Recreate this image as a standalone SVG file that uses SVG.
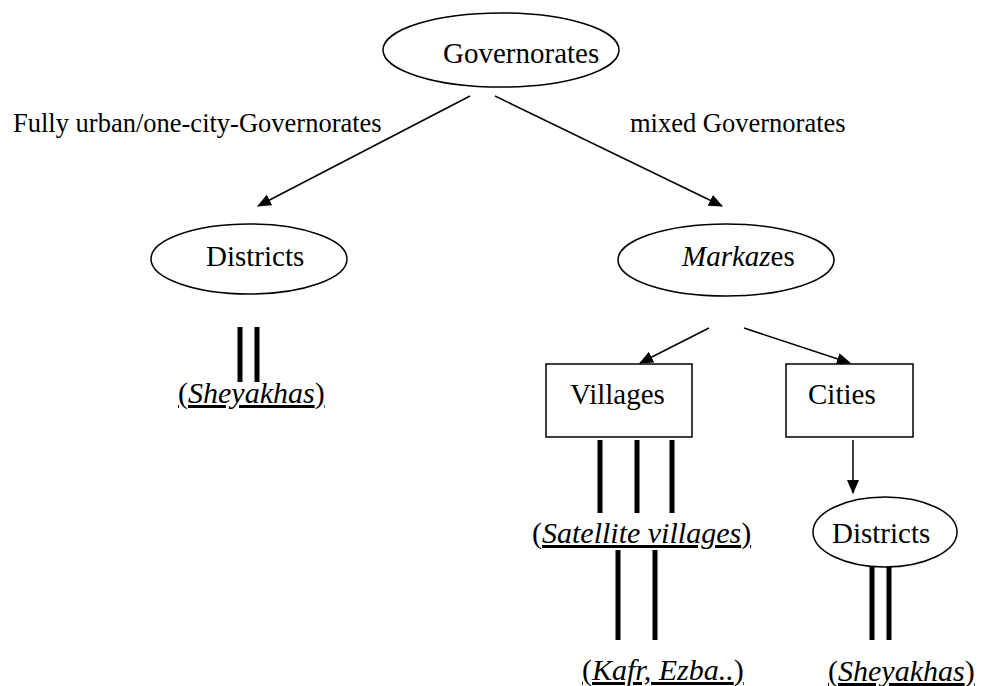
<svg xmlns="http://www.w3.org/2000/svg" width="987" height="686" viewBox="0 0 987 686">
<style>
text{font-family:"Times New Roman","Liberation Serif",Tinos,"Noto Serif","DejaVu Serif",FreeSerif,Times,serif;fill:#000}
.n{font-size:29px}
.l{font-size:26.5px}
.p{font-size:30px}
.i{font-style:italic}
.u{text-decoration:underline}
.shape{fill:#fff;stroke:#000;stroke-width:1.5}
.arr{stroke:#000;stroke-width:1.5;fill:none;marker-end:url(#ah)}
.bar{stroke:#000;stroke-width:5}
</style>
<defs>
<marker id="ah" markerWidth="14" markerHeight="12" refX="13" refY="6" orient="auto" markerUnits="userSpaceOnUse">
<path d="M0,0 L14,6 L0,12 Z" fill="#000"/>
</marker>
</defs>
<g id="connectors">
<line class="arr" x1="470" y1="96" x2="258" y2="206"/>
<line class="arr" x1="495" y1="96" x2="722" y2="206"/>
<line class="arr" x1="709" y1="328" x2="640" y2="363"/>
<line class="arr" x1="744" y1="328" x2="850" y2="363"/>
<line class="arr" x1="853" y1="440" x2="853" y2="493"/>
<line class="bar" x1="240" y1="327" x2="240" y2="382"/>
<line class="bar" x1="257" y1="327" x2="257" y2="382"/>
<line class="bar" x1="600" y1="440" x2="600" y2="513"/>
<line class="bar" x1="637" y1="440" x2="637" y2="513"/>
<line class="bar" x1="672" y1="440" x2="672" y2="513"/>
<line class="bar" x1="618" y1="550" x2="618" y2="640"/>
<line class="bar" x1="655" y1="550" x2="655" y2="640"/>
<line class="bar" x1="872" y1="567" x2="872" y2="640"/>
<line class="bar" x1="889" y1="567" x2="889" y2="640"/>
<text class="l" x="13" y="132">Fully urban/one-city-Governorates</text>
<text class="l" x="630" y="132">mixed Governorates</text>
</g>
<g id="governorates">
<ellipse class="shape" cx="501" cy="50" rx="118" ry="37"/>
<text class="n" x="443" y="63">Governorates</text>
</g>
<g id="districts-left">
<ellipse class="shape" cx="249" cy="259" rx="98" ry="35"/>
<text class="n" x="206" y="266">Districts</text>
</g>
<g id="sheyakhas-left">
<text class="p u" x="178" y="403">(<tspan class="i">Sheyakhas</tspan>)</text>
</g>
<g id="markazes">
<ellipse class="shape" cx="726" cy="260" rx="108" ry="36"/>
<text class="n" x="682" y="266"><tspan class="i">Markaz</tspan>es</text>
</g>
<g id="villages">
<rect class="shape" x="546" y="364" width="146" height="73"/>
<text class="n" x="570" y="404">Villages</text>
</g>
<g id="cities">
<rect class="shape" x="786" y="364" width="127" height="73"/>
<text class="n" x="808" y="404">Cities</text>
</g>
<g id="satellite">
<text class="p" x="532" y="543">(<tspan class="i u">Satellite villages</tspan><tspan class="u">)</tspan></text>
</g>
<g id="kafr">
<text class="p u" x="582" y="680">(<tspan class="i">Kafr, Ezba..</tspan>)</text>
</g>
<g id="districts-right">
<ellipse class="shape" cx="885" cy="532" rx="72" ry="35"/>
<text class="n" x="832" y="543">Districts</text>
</g>
<g id="sheyakhas-right">
<text class="p u" x="828" y="681">(<tspan class="i">Sheyakhas</tspan>)</text>
</g>
</svg>
